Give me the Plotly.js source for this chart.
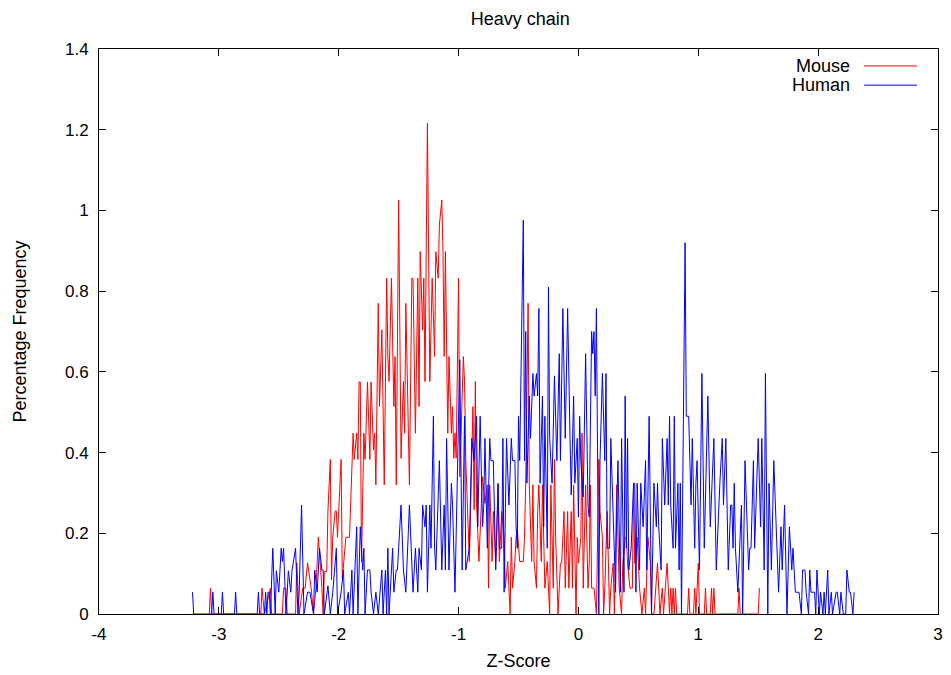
<!DOCTYPE html>
<html>
<head>
<meta charset="utf-8">
<script src="https://cdn.plot.ly/plotly-3.0.1.min.js"></script>
<style>html,body{margin:0;padding:0;background:#fff;}#chart{width:951px;height:675px;}</style>
</head>
<body>
<div id="chart"></div>
<script>
var seriesNames = ["Mouse", "Human"];

var mouseZ = [-3.08,-3.07,-3.06,-2.65,-2.64,-2.62,-2.57,-2.56,-2.47,-2.46,-2.44,-2.43,-2.36,-2.35,-2.33,-2.30,-2.28,-2.26,-2.23,-2.21,-2.19,-2.17,-2.14,-2.13,-2.12,-2.10,-2.09,-2.07,-2.06,-2.05,-2.03,-2.02,-2.01,-2.00,-1.98,-1.97,-1.96,-1.94,-1.91,-1.90,-1.88,-1.87,-1.85,-1.84,-1.83,-1.82,-1.81,-1.79,-1.78,-1.76,-1.74,-1.73,-1.71,-1.70,-1.69,-1.67,-1.66,-1.64,-1.63,-1.62,-1.60,-1.59,-1.58,-1.56,-1.54,-1.53,-1.52,-1.50,-1.48,-1.46,-1.45,-1.44,-1.41,-1.39,-1.38,-1.36,-1.34,-1.33,-1.32,-1.30,-1.29,-1.28,-1.26,-1.25,-1.24,-1.22,-1.20,-1.19,-1.17,-1.16,-1.14,-1.13,-1.12,-1.11,-1.09,-1.08,-1.06,-1.05,-1.04,-1.03,-1.02,-1.00,-0.99,-0.96,-0.95,-0.94,-0.91,-0.89,-0.88,-0.87,-0.86,-0.85,-0.83,-0.81,-0.80,-0.78,-0.76,-0.75,-0.74,-0.72,-0.71,-0.69,-0.67,-0.66,-0.64,-0.62,-0.61,-0.59,-0.57,-0.56,-0.55,-0.53,-0.52,-0.51,-0.49,-0.46,-0.45,-0.44,-0.42,-0.41,-0.39,-0.38,-0.37,-0.35,-0.34,-0.33,-0.31,-0.30,-0.28,-0.26,-0.24,-0.23,-0.21,-0.20,-0.19,-0.17,-0.15,-0.14,-0.12,-0.11,-0.09,-0.08,-0.06,-0.05,-0.04,-0.02,-0.01,0.00,0.02,0.03,0.04,0.06,0.08,0.09,0.10,0.11,0.13,0.15,0.17,0.18,0.20,0.21,0.22,0.24,0.26,0.27,0.29,0.30,0.32,0.34,0.36,0.37,0.39,0.40,0.41,0.43,0.45,0.46,0.47,0.49,0.51,0.53,0.55,0.56,0.58,0.60,0.61,0.63,0.66,0.68,0.70,0.71,0.74,0.76,0.77,0.78,0.79,0.80,0.81,0.82,0.91,0.92,0.93,0.96,0.97,0.98,1.00,1.01,1.05,1.06,1.07,1.10,1.11,1.12,1.13,1.14,1.33,1.34,1.35,1.50,1.51];
var mousePct = [0,0.064,0,0,0.064,0,0.064,0,0,0.064,0.064,0,0,0.127,0,0.064,0.064,0.127,0.064,0,0.064,0.19,0.064,0,0.105,0.105,0.255,0.383,0.084,0.19,0.255,0.255,0.19,0.255,0.383,0.088,0.13,0.19,0.19,0.295,0.448,0.383,0.448,0.383,0.575,0.575,0.13,0.448,0.383,0.575,0.383,0.575,0.406,0.448,0.32,0.77,0.514,0.704,0.52,0.32,0.832,0.638,0.576,0.832,0.514,0.638,0.32,1.026,0.386,0.576,0.448,0.77,0.32,0.832,0.832,0.448,0.832,0.514,0.898,0.704,0.832,0.576,1.216,0.77,0.576,0.832,0.638,0.898,0.832,0.964,1.026,0.898,0.638,0.898,0.448,0.638,0.448,0.514,0.386,0.448,0.386,0.832,0.34,0.638,0.576,0.386,0.13,0.386,0.514,0.258,0.576,0.274,0.13,0.274,0.34,0.274,0.32,0.064,0.32,0.13,0.254,0.13,0.32,0.13,0.254,0.19,0.064,0.13,0,0.19,0.064,0.13,0.19,0.21,0.13,0.13,0.19,0.32,0.77,0.32,0.13,0.32,0.13,0.064,0.254,0.32,0.13,0.32,0.064,0.13,0,0.32,0.064,0.383,0.19,0,0.126,0.126,0.254,0.064,0.254,0.064,0.254,0.064,0.32,0,0.19,0.126,0.19,0.448,0.064,0.32,0.064,0.126,0.32,0.064,0.064,0,0.383,0.254,0.19,0,0.064,0.254,0,0.064,0.126,0,0.32,0.064,0,0.126,0.19,0.19,0.126,0.064,0.064,0.32,0.126,0.19,0.064,0,0.064,0,0.19,0.126,0,0,0.126,0,0.064,0,0.126,0,0.064,0,0.064,0,0.064,0,0,0.064,0,0,0.064,0,0.126,0,0,0.064,0,0,0.064,0,0.064,0,0,0.064,0,0,0.064];

var humanZ = [-3.22,-3.21,-3.06,-3.05,-3.04,-2.98,-2.97,-2.96,-2.87,-2.86,-2.85,-2.68,-2.67,-2.66,-2.62,-2.61,-2.60,-2.59,-2.58,-2.57,-2.55,-2.54,-2.53,-2.52,-2.50,-2.48,-2.47,-2.46,-2.44,-2.42,-2.40,-2.39,-2.36,-2.34,-2.33,-2.31,-2.29,-2.26,-2.24,-2.21,-2.20,-2.18,-2.16,-2.14,-2.13,-2.12,-2.10,-2.09,-2.07,-2.05,-2.02,-2.01,-1.98,-1.96,-1.95,-1.92,-1.91,-1.89,-1.88,-1.85,-1.84,-1.82,-1.80,-1.79,-1.78,-1.76,-1.74,-1.73,-1.71,-1.69,-1.67,-1.64,-1.63,-1.61,-1.60,-1.59,-1.58,-1.55,-1.54,-1.52,-1.51,-1.48,-1.46,-1.44,-1.41,-1.39,-1.38,-1.36,-1.34,-1.33,-1.31,-1.30,-1.28,-1.27,-1.26,-1.24,-1.23,-1.21,-1.20,-1.19,-1.16,-1.14,-1.12,-1.11,-1.10,-1.08,-1.06,-1.05,-1.03,-0.99,-0.97,-0.95,-0.94,-0.91,-0.89,-0.87,-0.85,-0.84,-0.82,-0.80,-0.79,-0.78,-0.76,-0.74,-0.73,-0.71,-0.69,-0.67,-0.66,-0.64,-0.63,-0.62,-0.60,-0.58,-0.56,-0.55,-0.53,-0.52,-0.51,-0.50,-0.49,-0.46,-0.45,-0.44,-0.43,-0.41,-0.40,-0.38,-0.37,-0.35,-0.34,-0.33,-0.32,-0.30,-0.29,-0.28,-0.26,-0.25,-0.24,-0.22,-0.20,-0.18,-0.16,-0.15,-0.13,-0.11,-0.09,-0.07,-0.06,-0.04,-0.03,-0.01,0.00,0.01,0.02,0.04,0.06,0.08,0.09,0.11,0.12,0.13,0.14,0.15,0.17,0.18,0.20,0.22,0.23,0.24,0.26,0.27,0.28,0.29,0.31,0.32,0.33,0.35,0.36,0.38,0.39,0.40,0.41,0.42,0.44,0.46,0.47,0.48,0.49,0.51,0.52,0.54,0.56,0.57,0.59,0.61,0.63,0.65,0.66,0.67,0.69,0.70,0.72,0.74,0.75,0.76,0.77,0.79,0.80,0.81,0.83,0.84,0.85,0.86,0.87,0.89,0.90,0.92,0.94,0.95,0.97,0.98,0.99,1.01,1.03,1.05,1.08,1.10,1.13,1.15,1.18,1.20,1.21,1.23,1.25,1.27,1.28,1.29,1.30,1.31,1.33,1.36,1.37,1.39,1.42,1.43,1.44,1.46,1.47,1.50,1.52,1.53,1.55,1.56,1.58,1.59,1.61,1.63,1.65,1.67,1.69,1.70,1.72,1.74,1.76,1.78,1.79,1.81,1.84,1.86,1.87,1.89,1.90,1.92,1.93,1.94,1.97,1.98,1.99,2.01,2.02,2.04,2.05,2.06,2.08,2.09,2.11,2.12,2.15,2.16,2.18,2.19,2.21,2.23,2.24,2.26,2.27,2.29,2.30];
var humanPct = [0.054,0,0,0.054,0,0,0.054,0,0,0.054,0,0,0.054,0,0,0.054,0,0.054,0.054,0,0.163,0.054,0,0.107,0.054,0.163,0.13,0.163,0,0.107,0.054,0.107,0.163,0,0.054,0.27,0,0.054,0.054,0,0.109,0.054,0.163,0.109,0.109,0,0.054,0.07,0,0.054,0.163,0,0.054,0.109,0,0.054,0,0.109,0,0.216,0,0.216,0.109,0.163,0,0.109,0.109,0.054,0,0.054,0,0.109,0,0.109,0,0.163,0,0.163,0.054,0.109,0.109,0.27,0.109,0.054,0.27,0.109,0.054,0.163,0.054,0.163,0.109,0.27,0.216,0.27,0.054,0.27,0.163,0.49,0.163,0.109,0.38,0.109,0.27,0.109,0.435,0.109,0.324,0.27,0.054,0.63,0.109,0.49,0.109,0.163,0.435,0.38,0.49,0.216,0.49,0.216,0.27,0.435,0.163,0.435,0.38,0.38,0.109,0.324,0.163,0.163,0.435,0.054,0.435,0.27,0.435,0.38,0.38,0.216,0.163,0.49,0.38,0.976,0.38,0.70,0.324,0.54,0.435,0.596,0.54,0.596,0.54,0.757,0.324,0.54,0.216,0.49,0.163,0.81,0.435,0.324,0.59,0.38,0.645,0.38,0.757,0.435,0.757,0.435,0.295,0.54,0.324,0.435,0.24,0.49,0.38,0.29,0.645,0.27,0.24,0.70,0.645,0.70,0.54,0.757,0,0.38,0.596,0.38,0.596,0.163,0.163,0.435,0.324,0.216,0.054,0.27,0.38,0.054,0.435,0.054,0.54,0.163,0.435,0.109,0.163,0.324,0.324,0.054,0.324,0.109,0.324,0.216,0.38,0.109,0.49,0,0.324,0.216,0.324,0.216,0.109,0.435,0.27,0.435,0.27,0.49,0.27,0.163,0.49,0.163,0.324,0.109,0.324,0,0.38,0.92,0.49,0.49,0.27,0.435,0.163,0.324,0.38,0.109,0.596,0.163,0.54,0.216,0.435,0.109,0.324,0.435,0.27,0.435,0.109,0.27,0.27,0.163,0.324,0.163,0.054,0.27,0,0.38,0.109,0.163,0.163,0.38,0.163,0.435,0.216,0.435,0.109,0.596,0,0.324,0.109,0.38,0.216,0.054,0.216,0.109,0.27,0,0.216,0.109,0.163,0.054,0.054,0,0.109,0.109,0.054,0,0.109,0.054,0.054,0,0.109,0,0.054,0,0.054,0,0.109,0,0.054,0,0.054,0.054,0,0.054,0,0,0.109,0.054,0.054,0,0.054];

var xTickVals = [-4,-3,-2,-1,0,1,2,3];
var xTickText = ["-4","-3","-2","-1","0","1","2","3"];
var yTickVals = [0,0.2,0.4,0.6,0.8,1,1.2,1.4];
var yTickText = ["0","0.2","0.4","0.6","0.8","1","1.2","1.4"];
var seriesColors = ["#ff0000", "#0000ff"];

var FONT = "Liberation Sans, Arial, Helvetica, sans-serif";

var traces = [
  {x: mouseZ, y: mousePct, name: seriesNames[0], type: "scatter", mode: "lines",
   line: {color: seriesColors[0], width: 1}},
  {x: humanZ, y: humanPct, name: seriesNames[1], type: "scatter", mode: "lines",
   line: {color: seriesColors[1], width: 1}}
];

var axisCommon = {
  showline: true, linecolor: "#000", linewidth: 1, mirror: "ticks",
  ticks: "inside", ticklen: 7, tickcolor: "#000", tickwidth: 1,
  showgrid: false, zeroline: false,
  tickfont: {family: FONT, size: 17, color: "#000"}
};

var layout = {
  width: 951, height: 675,
  margin: {l: 99, r: 13, t: 49, b: 61},
  paper_bgcolor: "#fff", plot_bgcolor: "#fff",
  showlegend: false,
  title: {text: "Heavy chain", font: {family: FONT, size: 18, color: "#000"},
          x: 0.547, xanchor: "center", y: 0.972, yanchor: "middle"},
  xaxis: Object.assign({}, axisCommon, {
    range: [-4, 3], tickmode: "array", tickvals: xTickVals, ticktext: xTickText,
    ticklabelstandoff: 5,
    title: {text: "Z-Score", font: {family: FONT, size: 18, color: "#000"}, standoff: 10}
  }),
  yaxis: Object.assign({}, axisCommon, {
    range: [0, 1.4], tickmode: "array", tickvals: yTickVals, ticktext: yTickText,
    ticklabelstandoff: 6,
    title: {text: "Percentage Frequency", font: {family: FONT, size: 18, color: "#000"}, standoff: 33}
  }),
  annotations: [
    {xref: "paper", yref: "paper", x: 0.898, y: 0.970, xanchor: "right", yanchor: "middle",
     text: seriesNames[0], showarrow: false, font: {family: FONT, size: 18, color: "#000"}},
    {xref: "paper", yref: "paper", x: 0.898, y: 0.936, xanchor: "right", yanchor: "middle",
     text: seriesNames[1], showarrow: false, font: {family: FONT, size: 18, color: "#000"}}
  ],
  shapes: [
    {type: "line", xref: "paper", yref: "paper", x0: 0.912, x1: 0.975, y0: 0.970, y1: 0.970,
     line: {color: seriesColors[0], width: 1}},
    {type: "line", xref: "paper", yref: "paper", x0: 0.912, x1: 0.975, y0: 0.936, y1: 0.936,
     line: {color: seriesColors[1], width: 1}}
  ]
};

Plotly.newPlot("chart", traces, layout, {displayModeBar: false, staticPlot: true});
</script>
</body>
</html>
